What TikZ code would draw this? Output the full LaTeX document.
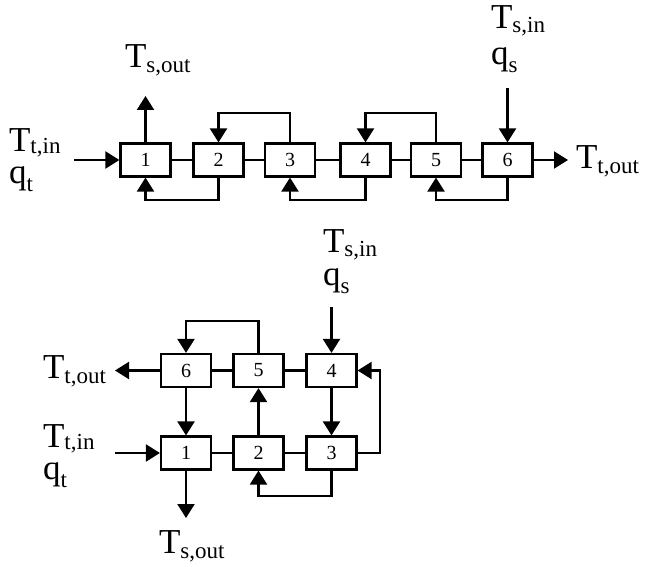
\documentclass[tikz,border=0pt]{standalone}
\usepackage{fontspec}
\setmainfont{Liberation Serif}
\usetikzlibrary{arrows.meta}
\newcommand{\subT}[2][5pt]{\raisebox{-#1}{\fontsize{23}{23}\selectfont #2}}
\newcommand{\subQ}[1]{\raisebox{-8pt}{\fontsize{23}{23}\selectfont #1}}
\begin{document}
\begin{tikzpicture}[x=1pt,y=-1pt,line width=2.2pt,
  box/.style={draw, minimum width=50pt, minimum height=33pt, inner sep=0pt, font=\fontsize{20}{20}\selectfont},
  arr/.style={-{Triangle[length=14pt,width=17pt]}},
  lab/.style={anchor=base west, inner sep=0pt, font=\fontsize{35}{35}\selectfont},
  lab2/.style={anchor=base west, inner sep=0pt, align=left}]
\useasboundingbox (0,0) rectangle (645,567);
% ---------- top diagram ----------
\node[box] (A1) at (145.5,160) {1};
\node[box] (A2) at (218.5,160) {2};
\node[box] (A3) at (290,160) {3};
\node[box] (A4) at (365.5,160) {4};
\node[box] (A5) at (436,160) {5};
\node[box] (A6) at (507.5,160) {6};
\draw (A1.east) -- (A2.west);
\draw (A2.east) -- (A3.west);
\draw (A3.east) -- (A4.west);
\draw (A4.east) -- (A5.west);
\draw (A5.east) -- (A6.west);
\draw[arr] (A3.north) -- (A3.north |- 0,113) -| (A2.north);
\draw[arr] (A5.north) -- (A5.north |- 0,113) -| (A4.north);
\draw[arr] (A2.south) -- (A2.south |- 0,200) -| (A1.south);
\draw[arr] (A4.south) -- (A4.south |- 0,200) -| (A3.south);
\draw[arr] (A6.south) -- (A6.south |- 0,200) -| (A5.south);
\coordinate (tin) at (74,160);
\coordinate (tsout) at (145.5,96);
\coordinate (tsin) at (507.5,88);
\coordinate (ttout) at (568,160);
\draw[arr] (tin) -- (A1.west);
\draw[arr] (A1.north) -- (tsout);
\draw[arr] (tsin) -- (A6.north);
\draw[arr] (A6.east) -- (ttout);
\node[lab2, font=\fontsize{35}{32}\selectfont] (LA1) at (8,183) {T\subT[2pt]{t,in}\\q\subQ{t}};
\node[lab] (LA3) at (124,68) {T\subT{s,out}};
\node[lab2, font=\fontsize{35}{36}\selectfont] (LA4) at (490,65) {T\subT[4pt]{s,in}\\q\subQ{s}};
\node[lab] (LA6) at (575,168) {T\subT{t,out}};
% ---------- bottom diagram ----------
\node[box] (B6) at (186,370.5) {6};
\node[box] (B5) at (258.5,370.5) {5};
\node[box] (B4) at (331.5,370.5) {4};
\node[box] (B1) at (186,453) {1};
\node[box] (B2) at (258.5,453) {2};
\node[box] (B3) at (331.5,453) {3};
\draw (B6.east) -- (B5.west);
\draw (B5.east) -- (B4.west);
\draw (B1.east) -- (B2.west);
\draw (B2.east) -- (B3.west);
\draw[arr] (B6.south) -- (B1.north);
\draw[arr] (B2.north) -- (B5.south);
\draw[arr] (B4.south) -- (B3.north);
\draw[arr] (B5.north) -- (B5.north |- 0,321) -| (B6.north);
\draw[arr] (B3.east) -- (380,453) |- (B4.east);
\draw[arr] (B3.south) -- (B3.south |- 0,496) -| (B2.south);
\coordinate (bsout) at (186,518);
\coordinate (btin) at (115,453);
\coordinate (btout) at (115,370.5);
\coordinate (bsin) at (331.5,307);
\draw[arr] (B1.south) -- (bsout);
\draw[arr] (btin) -- (B1.west);
\draw[arr] (B6.west) -- (btout);
\draw[arr] (bsin) -- (B4.north);
\node[lab2, font=\fontsize{35}{33}\selectfont] (LB1) at (322,285) {T\subT[4pt]{s,in}\\q\subQ{s}};
\node[lab] (LB3) at (42,378) {T\subT{t,out}};
\node[lab2, font=\fontsize{35}{32}\selectfont] (LB4) at (42,479) {T\subT[2pt]{t,in}\\q\subQ{t}};
\node[lab] (LB6) at (158,553) {T\subT{s,out}};
\end{tikzpicture}
\end{document}
